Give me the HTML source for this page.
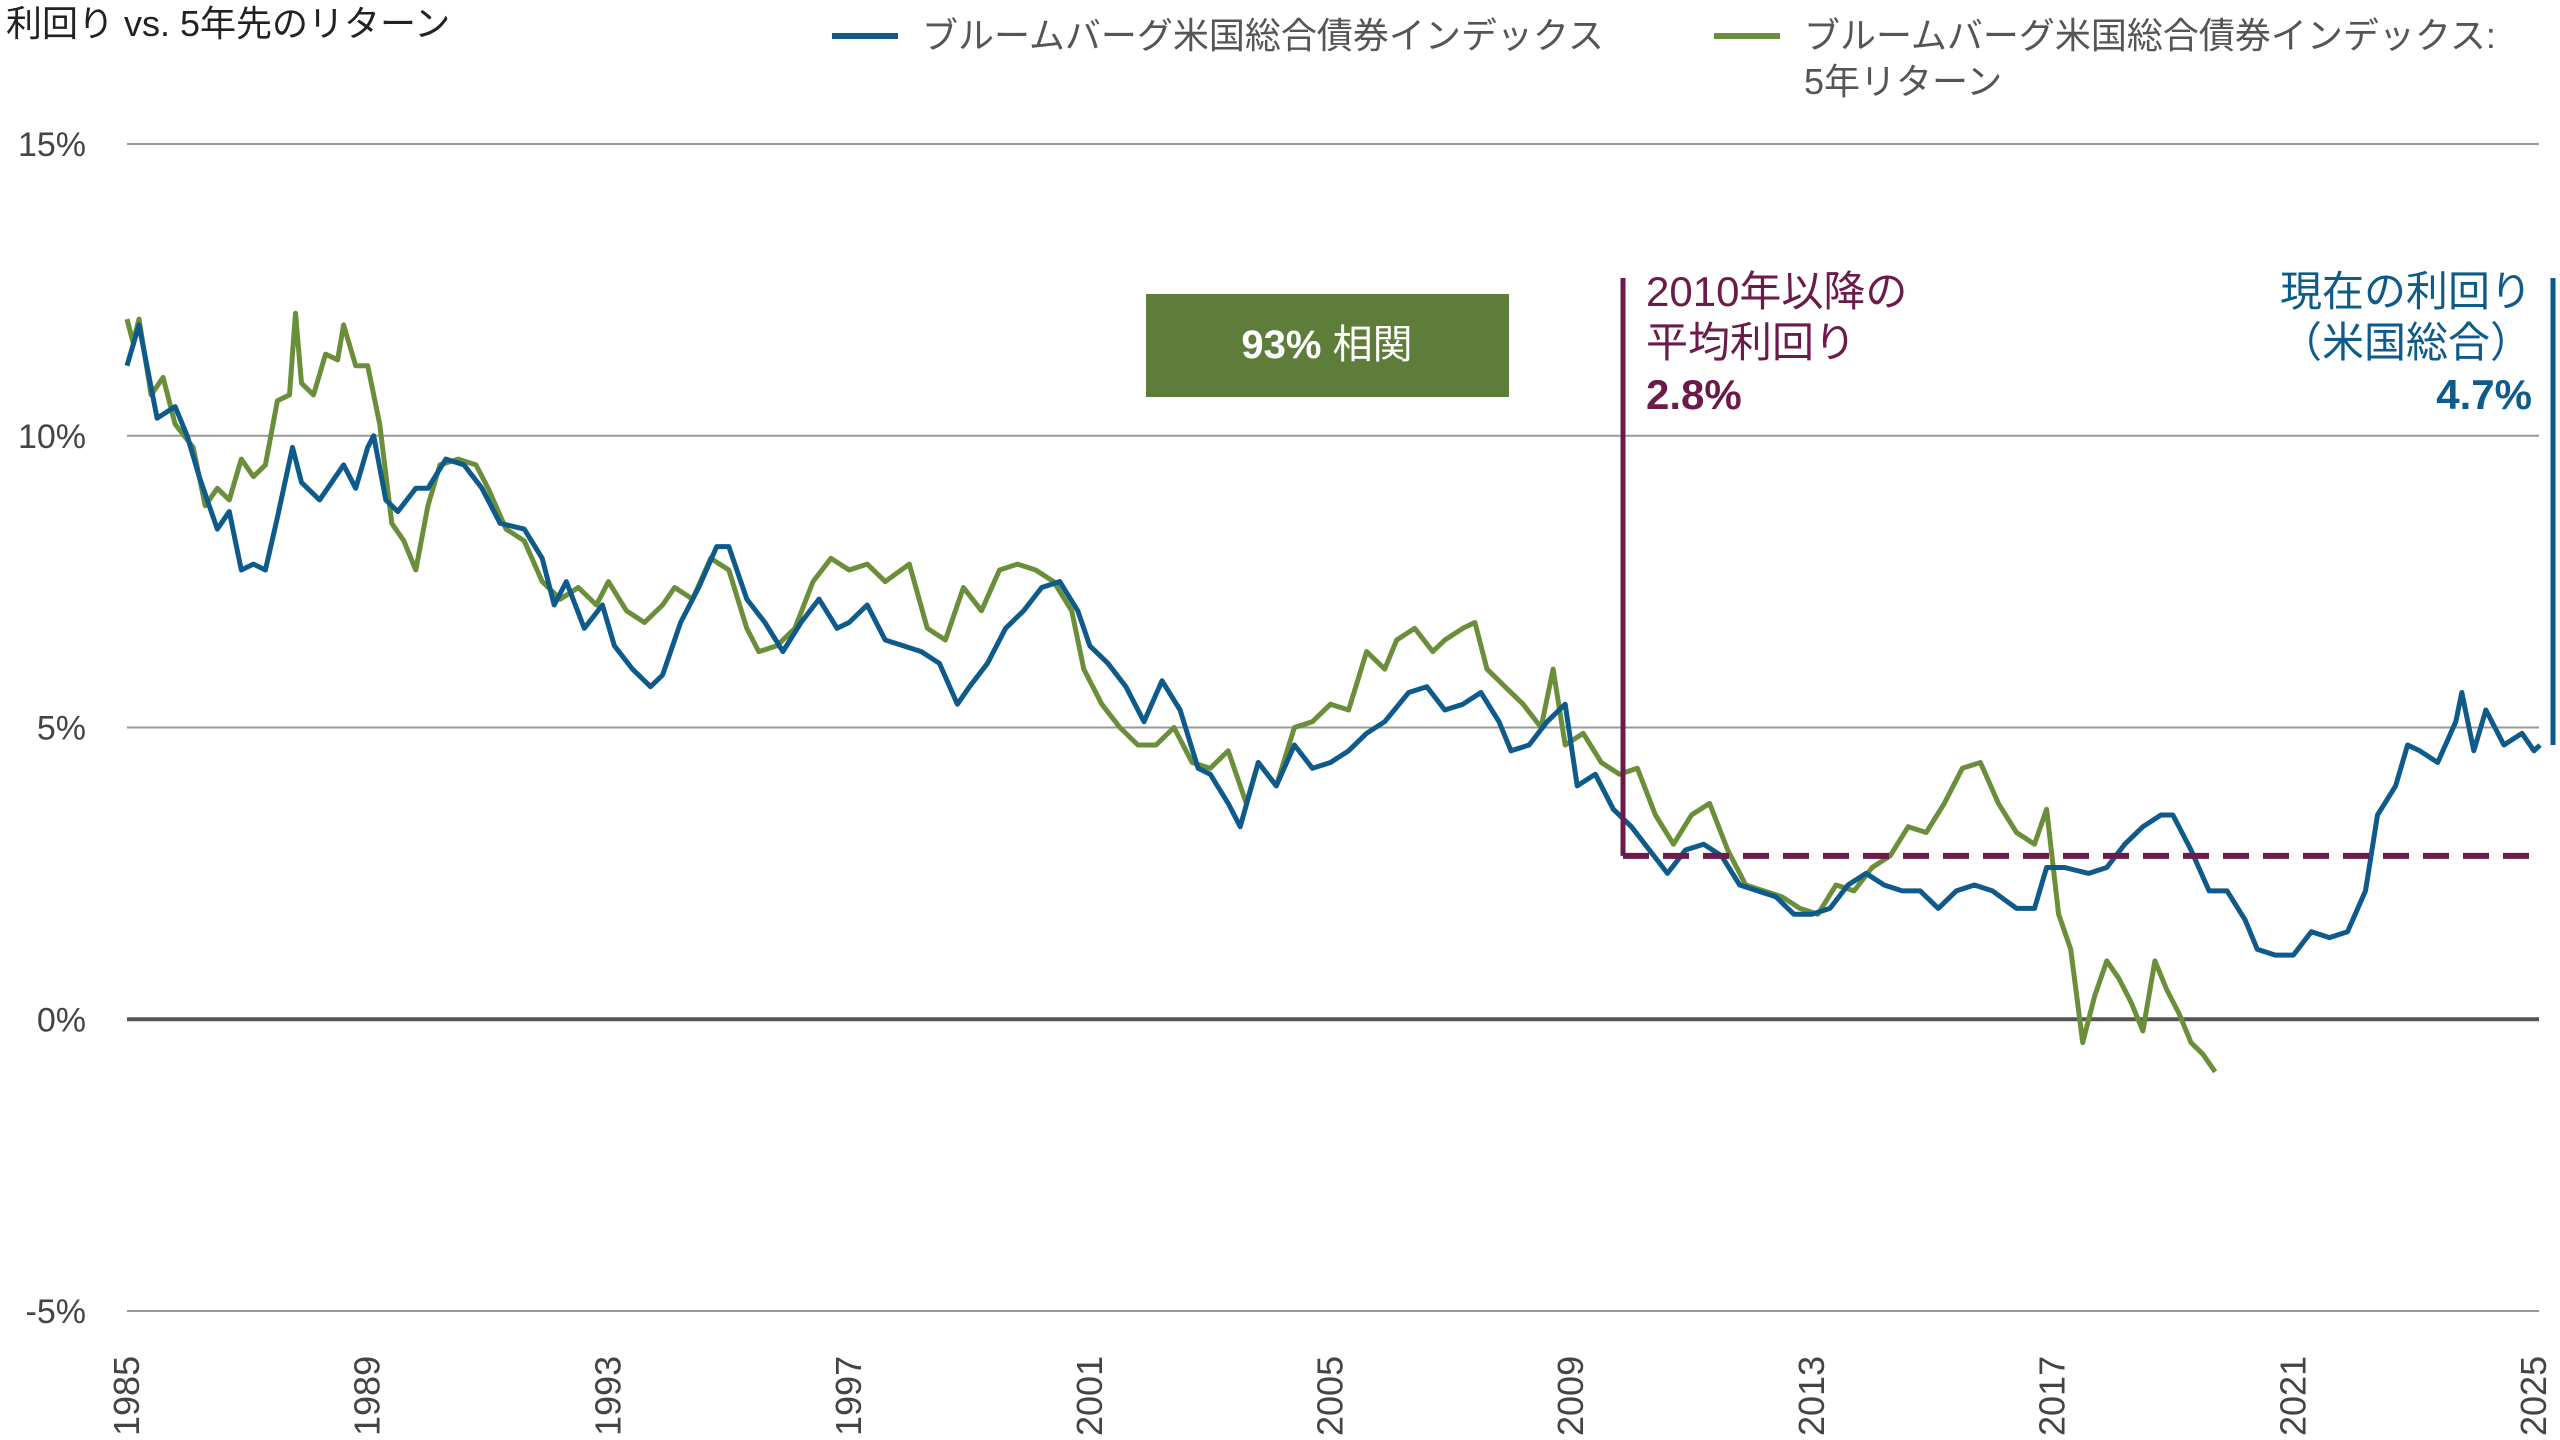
<!DOCTYPE html>
<html><head><meta charset="utf-8">
<style>
html,body{margin:0;padding:0;background:#fff;}
svg{display:block;font-family:"Liberation Sans","Noto Sans CJK JP",sans-serif;}
</style></head>
<body>
<svg id="chart" width="2560" height="1440" viewBox="0 0 2560 1440" xmlns="http://www.w3.org/2000/svg">
  <text x="6" y="36" font-size="36" fill="#222">利回り vs. 5年先のリターン</text>
  <g>
    <line x1="832" y1="36" x2="898" y2="36" stroke="#0e5a8a" stroke-width="6"/>
    <text x="922" y="48" font-size="36" fill="#555">ブルームバーグ米国総合債券インデックス</text>
    <line x1="1714" y1="36" x2="1780" y2="36" stroke="#6b8e3a" stroke-width="6"/>
    <text x="1804" y="48" font-size="36" fill="#555">ブルームバーグ米国総合債券インデックス:</text>
    <text x="1804" y="94" font-size="36" fill="#555">5年リターン</text>
  </g>
  <g id="grid"></g>
  <g id="series"></g>
  <g id="annot"></g>
</svg>
<script>
const yTicks=[15,10,5,0,-5];
const xTicks=[1985,1989,1993,1997,2001,2005,2009,2013,2017,2021,2025];
const yieldYears=[1985.0,1985.2,1985.5,1985.8,1986.0,1986.2,1986.5,1986.7,1986.9,1987.1,1987.3,1987.5,1987.75,1987.9,1988.2,1988.4,1988.6,1988.8,1989.0,1989.1,1989.3,1989.5,1989.8,1990.0,1990.3,1990.6,1990.9,1991.2,1991.6,1991.9,1992.1,1992.3,1992.6,1992.9,1993.1,1993.4,1993.7,1993.9,1994.2,1994.5,1994.8,1995.0,1995.3,1995.6,1995.9,1996.2,1996.5,1996.8,1997.0,1997.3,1997.6,1997.9,1998.2,1998.5,1998.8,1999.0,1999.3,1999.6,1999.9,2000.2,2000.5,2000.8,2001.0,2001.3,2001.6,2001.9,2002.2,2002.5,2002.8,2003.0,2003.3,2003.5,2003.8,2004.1,2004.4,2004.7,2005.0,2005.3,2005.6,2005.9,2006.3,2006.6,2006.9,2007.2,2007.5,2007.8,2008.0,2008.3,2008.6,2008.9,2009.1,2009.4,2009.7,2010.0,2010.3,2010.6,2010.9,2011.2,2011.5,2011.8,2012.1,2012.4,2012.7,2013.0,2013.3,2013.6,2013.9,2014.2,2014.5,2014.8,2015.1,2015.4,2015.7,2016.0,2016.4,2016.7,2016.9,2017.2,2017.6,2017.9,2018.2,2018.5,2018.8,2019.0,2019.3,2019.6,2019.9,2020.2,2020.4,2020.7,2021.0,2021.3,2021.6,2021.9,2022.2,2022.4,2022.7,2022.9,2023.1,2023.4,2023.7,2023.8,2024.0,2024.2,2024.5,2024.8,2025.0,2025.1];
const yieldValues=[11.2,11.9,10.3,10.5,10.0,9.3,8.4,8.7,7.7,7.8,7.7,8.6,9.8,9.2,8.9,9.2,9.5,9.1,9.8,10.0,8.9,8.7,9.1,9.1,9.6,9.5,9.1,8.5,8.4,7.9,7.1,7.5,6.7,7.1,6.4,6.0,5.7,5.9,6.8,7.4,8.1,8.1,7.2,6.8,6.3,6.8,7.2,6.7,6.8,7.1,6.5,6.4,6.3,6.1,5.4,5.7,6.1,6.7,7.0,7.4,7.5,7.0,6.4,6.1,5.7,5.1,5.8,5.3,4.3,4.2,3.7,3.3,4.4,4.0,4.7,4.3,4.4,4.6,4.9,5.1,5.6,5.7,5.3,5.4,5.6,5.1,4.6,4.7,5.1,5.4,4.0,4.2,3.6,3.3,2.9,2.5,2.9,3.0,2.8,2.3,2.2,2.1,1.8,1.8,1.9,2.3,2.5,2.3,2.2,2.2,1.9,2.2,2.3,2.2,1.9,1.9,2.6,2.6,2.5,2.6,3.0,3.3,3.5,3.5,2.9,2.2,2.2,1.7,1.2,1.1,1.1,1.5,1.4,1.5,2.2,3.5,4.0,4.7,4.6,4.4,5.1,5.6,4.6,5.3,4.7,4.9,4.6,4.7];
const returnYears=[1985.0,1985.1,1985.2,1985.4,1985.6,1985.8,1986.1,1986.3,1986.5,1986.7,1986.9,1987.1,1987.3,1987.5,1987.7,1987.8,1987.9,1988.1,1988.3,1988.5,1988.6,1988.8,1989.0,1989.2,1989.4,1989.6,1989.8,1990.0,1990.2,1990.5,1990.8,1991.0,1991.3,1991.6,1991.9,1992.2,1992.5,1992.8,1993.0,1993.3,1993.6,1993.9,1994.1,1994.4,1994.7,1995.0,1995.3,1995.5,1995.8,1996.1,1996.4,1996.7,1997.0,1997.3,1997.6,1998.0,1998.3,1998.6,1998.9,1999.2,1999.5,1999.8,2000.1,2000.4,2000.7,2000.9,2001.2,2001.5,2001.8,2002.1,2002.4,2002.7,2003.0,2003.3,2003.6,2003.8,2004.1,2004.4,2004.7,2005.0,2005.3,2005.6,2005.9,2006.1,2006.4,2006.7,2006.9,2007.2,2007.4,2007.6,2007.9,2008.2,2008.5,2008.7,2008.9,2009.2,2009.5,2009.8,2010.1,2010.4,2010.7,2011.0,2011.3,2011.6,2011.9,2012.2,2012.5,2012.8,2013.1,2013.4,2013.7,2014.0,2014.3,2014.6,2014.9,2015.2,2015.5,2015.8,2016.1,2016.4,2016.7,2016.9,2017.1,2017.3,2017.5,2017.7,2017.9,2018.1,2018.3,2018.5,2018.7,2018.9,2019.1,2019.3,2019.5,2019.7];
const returnValues=[12.0,11.6,12.0,10.7,11.0,10.2,9.8,8.8,9.1,8.9,9.6,9.3,9.5,10.6,10.7,12.1,10.9,10.7,11.4,11.3,11.9,11.2,11.2,10.2,8.5,8.2,7.7,8.8,9.5,9.6,9.5,9.1,8.4,8.2,7.5,7.2,7.4,7.1,7.5,7.0,6.8,7.1,7.4,7.2,7.9,7.7,6.7,6.3,6.4,6.7,7.5,7.9,7.7,7.8,7.5,7.8,6.7,6.5,7.4,7.0,7.7,7.8,7.7,7.5,7.0,6.0,5.4,5.0,4.7,4.7,5.0,4.4,4.3,4.6,3.7,4.4,4.0,5.0,5.1,5.4,5.3,6.3,6.0,6.5,6.7,6.3,6.5,6.7,6.8,6.0,5.7,5.4,5.0,6.0,4.7,4.9,4.4,4.2,4.3,3.5,3.0,3.5,3.7,2.9,2.3,2.2,2.1,1.9,1.8,2.3,2.2,2.6,2.8,3.3,3.2,3.7,4.3,4.4,3.7,3.2,3.0,3.6,1.8,1.2,-0.4,0.4,1.0,0.7,0.3,-0.2,1.0,0.5,0.1,-0.4,-0.6,-0.9];
const avgSince2010=[2.8];
const currentYield=[4.7];

const NS="http://www.w3.org/2000/svg";
const X0=127,X1=2534,Y15=144,Y_5=1311;
const xs=y=>X0+(y-1985)*(X1-X0)/40;
const ys=v=>Y15+(15-v)*(Y_5-Y15)/20;
function el(tag,attrs,parent){const e=document.createElementNS(NS,tag);for(const k in attrs)e.setAttribute(k,attrs[k]);parent.appendChild(e);return e;}
const grid=document.getElementById('grid');
yTicks.forEach(t=>{
  const l=el('line',{x1:127,x2:2539,y1:ys(t),y2:ys(t),stroke:t===0?'#555':'#999','stroke-width':t===0?4:2},grid);
  
  
  const tx=el('text',{x:86,y:ys(t)+12,'text-anchor':'end','font-size':34,fill:'#444'},grid);
  
  
  tx.textContent=t+'%';
});
xTicks.forEach(t=>{
  const x=xs(t)+12;
  const tx=el('text',{x:0,y:0,transform:`translate(${x},1436) rotate(-90)`,'font-size':36,fill:'#444'},grid);
  
  
  tx.textContent=t;
});
const ser=document.getElementById('series');
function path(xa,va){return xa.map((x,i)=>(i?'L':'M')+xs(x).toFixed(1)+' '+ys(va[i]).toFixed(1)).join(' ');}
const g=el('path',{d:path(returnYears,returnValues),fill:'none',stroke:'#6b8e3a','stroke-width':5,'stroke-linejoin':'round'},ser);


const b=el('path',{d:path(yieldYears,yieldValues),fill:'none',stroke:'#0e5a8a','stroke-width':5,'stroke-linejoin':'round'},ser);



const an=document.getElementById('annot');
const ay=ys(avgSince2010[0]);
const vl=el('line',{x1:1623,x2:1623,y1:278,y2:ay,stroke:'#6b1a4a','stroke-width':5},an);


const dl=el('line',{x1:1623,x2:2539,y1:ay,y2:ay,stroke:'#6b1a4a','stroke-width':6,'stroke-dasharray':'26 14'},an);


const cl=el('line',{x1:2553,x2:2553,y1:278,y2:ys(currentYield[0]),stroke:'#0e5a8a','stroke-width':5},an);


</script>
<svg style="position:absolute;left:0;top:0" width="2560" height="1440" xmlns="http://www.w3.org/2000/svg">
  <g>
    <rect x="1146" y="294" width="363" height="103" fill="#5e7d3a"/>
    <text x="1327" y="358" text-anchor="middle" font-size="40" fill="#fff" font-family="Liberation Sans, Noto Sans CJK JP, sans-serif"><tspan font-weight="bold">93%</tspan> 相関</text>
  </g>
  <g fill="#6b1a4a" font-size="42" font-family="Liberation Sans, Noto Sans CJK JP, sans-serif">
    <text x="1646" y="306">2010年以降の</text>
    <text x="1646" y="357">平均利回り</text>
    <text x="1646" y="409" font-weight="bold">2.8%</text>
  </g>
  <g fill="#0e5a8a" font-size="42" text-anchor="end" font-family="Liberation Sans, Noto Sans CJK JP, sans-serif">
    <text x="2532" y="306">現在の利回り</text>
    <text x="2532" y="357">（米国総合）</text>
    <text x="2532" y="409" font-weight="bold">4.7%</text>
  </g>
</svg>
</body></html>
